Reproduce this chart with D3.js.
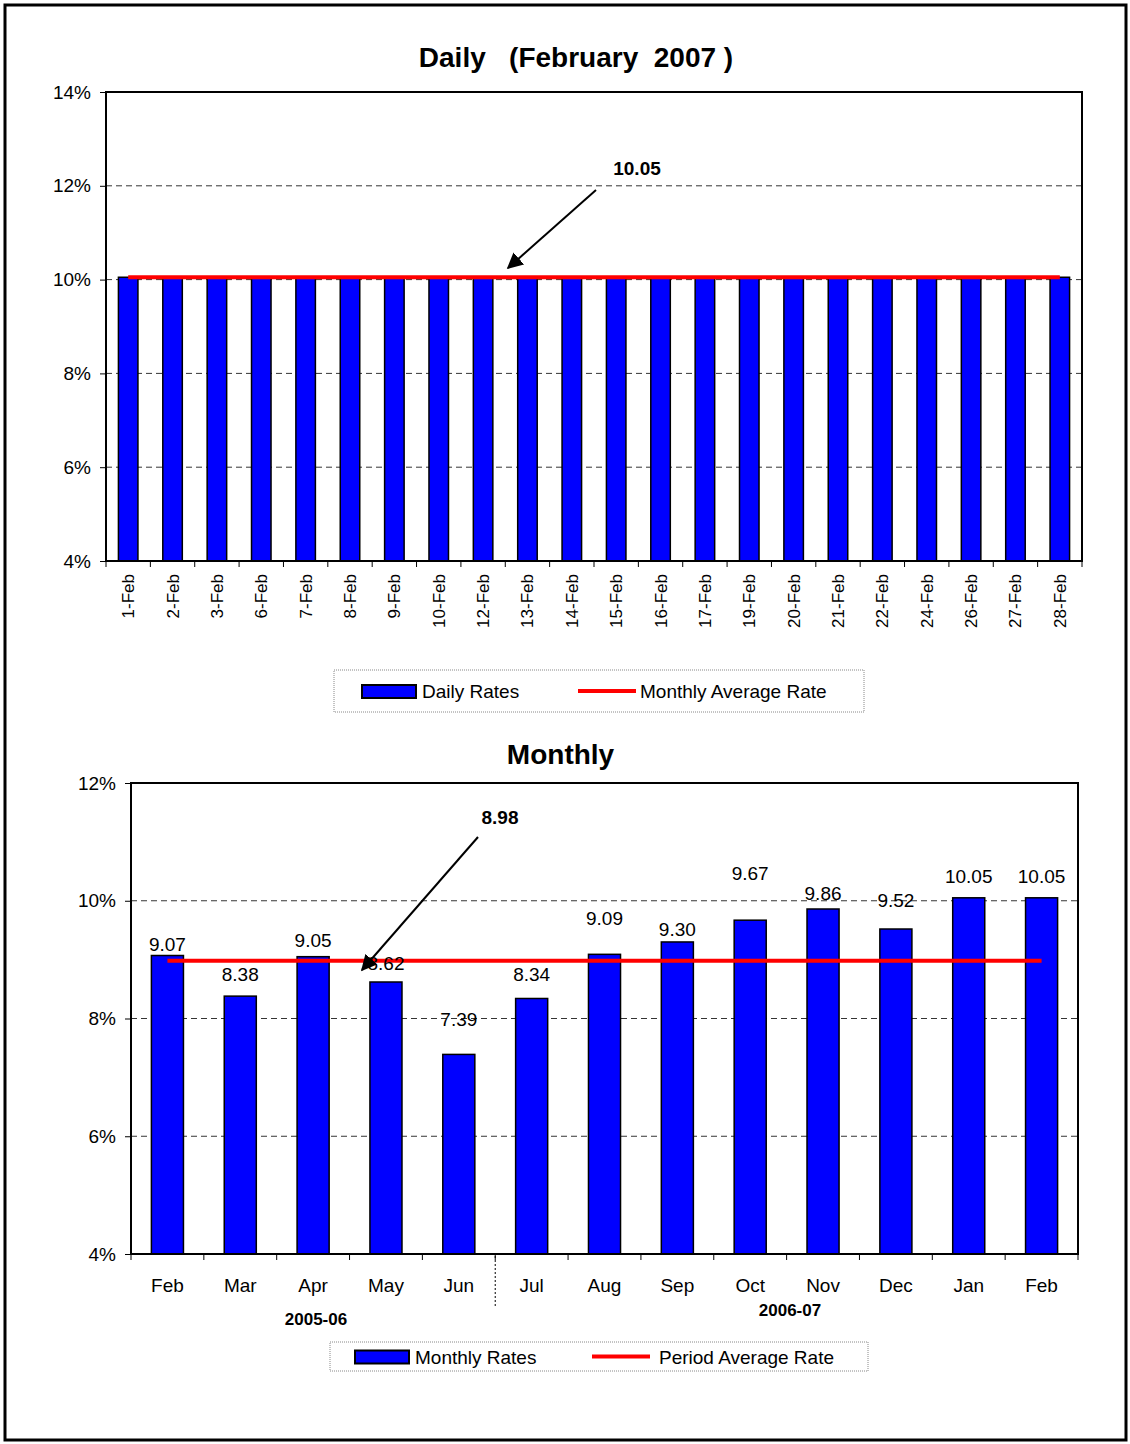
<!DOCTYPE html>
<html><head><meta charset="utf-8">
<script src="https://cdnjs.cloudflare.com/ajax/libs/d3/7.8.5/d3.min.js"></script>
<style>body{margin:0;background:#fff;font-family:Arial,"Liberation Sans",sans-serif}</style>
</head><body>
<svg id="c" width="1130" height="1444"></svg>
<script>
var dailyDays = ["1-Feb","2-Feb","3-Feb","6-Feb","7-Feb","8-Feb","9-Feb","10-Feb","12-Feb","13-Feb","14-Feb","15-Feb","16-Feb","17-Feb","19-Feb","20-Feb","21-Feb","22-Feb","24-Feb","26-Feb","27-Feb","28-Feb"];
var dailyRates = [10.05,10.05,10.05,10.05,10.05,10.05,10.05,10.05,10.05,10.05,10.05,10.05,10.05,10.05,10.05,10.05,10.05,10.05,10.05,10.05,10.05,10.05];
var dailyAvg = 10.05;
var months = ["Feb","Mar","Apr","May","Jun","Jul","Aug","Sep","Oct","Nov","Dec","Jan","Feb"];
var monthlyRates = [9.07,8.38,9.05,8.62,7.39,8.34,9.09,9.30,9.67,9.86,9.52,10.05,10.05];
var periodAvg = 8.98;
var dailyTicks = [4,6,8,10,12,14];
var monthlyTicks = [4,6,8,10,12];
// how far each value label sits above its bar (px), as placed in the original
var labelLift = [2,12,7,9,25,14,26,3,37,6,19,12,12];

var svg = d3.select("#c");
svg.append("rect").attr("x",5).attr("y",5).attr("width",1121).attr("height",1435)
  .attr("fill","none").attr("stroke","#000").attr("stroke-width",3);

function chart(o){
  var g = svg.append("g");
  var x = d3.scaleBand().domain(d3.range(o.cats.length)).range([o.x0,o.x1]);
  var y = d3.scaleLinear().domain([o.ticks[0],o.ticks[o.ticks.length-1]]).range([o.y1,o.y0]);
  g.selectAll(".gr").data(o.ticks.slice(1,-1)).enter().append("line")
    .attr("x1",o.x0).attr("x2",o.x1).attr("y1",y).attr("y2",y)
    .attr("stroke","#000").attr("stroke-dasharray","6,4").attr("stroke-width",0.8);
  var bw = x.bandwidth()*o.bw;
  g.selectAll(".b").data(o.vals).enter().append("rect")
    .attr("x",function(d,i){return x(i)+(x.bandwidth()-bw)/2;})
    .attr("y",function(d){return y(d);})
    .attr("width",bw).attr("height",function(d){return o.y1-y(d);})
    .attr("fill","#0000ff").attr("stroke","#000").attr("stroke-width",1.5);
  g.append("line").attr("x1",x(0)+x.bandwidth()/2).attr("x2",x(o.cats.length-1)+x.bandwidth()/2)
    .attr("y1",y(o.avg)).attr("y2",y(o.avg)).attr("stroke","#ff0000").attr("stroke-width",4);
  g.append("rect").attr("x",o.x0).attr("y",o.y0).attr("width",o.x1-o.x0).attr("height",o.y1-o.y0)
    .attr("fill","none").attr("stroke","#000").attr("stroke-width",2);
  var ya = g.append("g").attr("transform","translate("+o.x0+",0)")
    .call(d3.axisLeft(y).tickValues(o.ticks).tickFormat(function(d){return d+"%";}).tickSize(6));
  ya.select(".domain").remove();
  ya.selectAll("text").attr("font-size",19).attr("font-family","Arial,'Liberation Sans',sans-serif").attr("fill","#000").attr("dx",-6);
  var xa = g.append("g").attr("transform","translate(0,"+o.y1+")");
  xa.selectAll("line").data(d3.range(o.cats.length+1)).enter().append("line")
    .attr("x1",function(i){return o.x0+i*x.step();}).attr("x2",function(i){return o.x0+i*x.step();})
    .attr("y1",0).attr("y2",6).attr("stroke","#000");
  g.append("text").attr("x",(o.x0+o.x1)/2+o.tdx).attr("y",o.ty).attr("text-anchor","middle")
    .attr("font-size",28).attr("font-weight","bold").attr("xml:space","preserve").text(o.title);
  return {x:x,y:y,g:g};
}

var dTop = chart({cats:dailyDays,vals:dailyRates,avg:dailyAvg,ticks:dailyTicks,x0:106,x1:1082,y0:92,y1:561,bw:0.44,title:"Daily   (February  2007 )",ty:67,tdx:-18});
dTop.g.selectAll(".xl").data(dailyDays).enter().append("text")
  .attr("transform",function(d,i){return "translate("+(dTop.x(i)+dTop.x.bandwidth()/2+6)+",574) rotate(-90)";})
  .attr("text-anchor","end").attr("font-size",17).text(function(d){return d;});

var mBot = chart({cats:months,vals:monthlyRates,avg:periodAvg,ticks:monthlyTicks,x0:131,x1:1078,y0:783,y1:1254,bw:0.44,title:"Monthly",ty:764,tdx:-44});
mBot.g.selectAll(".xl").data(months).enter().append("text")
  .attr("x",function(d,i){return mBot.x(i)+mBot.x.bandwidth()/2;}).attr("y",1292)
  .attr("text-anchor","middle").attr("font-size",19).text(function(d){return d;});
mBot.g.selectAll(".vl").data(monthlyRates).enter().append("text")
  .attr("x",function(d,i){return mBot.x(i)+mBot.x.bandwidth()/2;}).attr("y",function(d,i){return mBot.y(d)-3-labelLift[i];})
  .attr("text-anchor","middle").attr("font-size",19).text(function(d){return d.toFixed(2);});
svg.append("line").attr("x1",mBot.x(5)).attr("x2",mBot.x(5)).attr("y1",1256).attr("y2",1308)
  .attr("stroke","#000").attr("stroke-dasharray","2,2");
svg.append("text").attr("x",316).attr("y",1325).attr("text-anchor","middle").attr("font-size",17).attr("font-weight","bold").text("2005-06");
svg.append("text").attr("x",790).attr("y",1316).attr("text-anchor","middle").attr("font-size",17).attr("font-weight","bold").text("2006-07");

svg.append("defs").append("marker").attr("id","ah").attr("viewBox","0 0 10 10").attr("refX",9).attr("refY",5)
  .attr("markerWidth",8).attr("markerHeight",8).attr("orient","auto")
  .append("path").attr("d","M0,0L10,5L0,10z").attr("fill","#000");
function annot(label,lx,ly,x1,y1,x2,y2){
  svg.append("text").attr("x",lx).attr("y",ly).attr("text-anchor","middle").attr("font-size",19).attr("font-weight","bold").text(label);
  svg.append("line").attr("x1",x1).attr("y1",y1).attr("x2",x2).attr("y2",y2).attr("stroke","#000").attr("stroke-width",2).attr("marker-end","url(#ah)");
}
annot(dailyAvg.toFixed(2),637,175,596,190,508,268);
annot(periodAvg.toFixed(2),500,824,478,837,362,970);

function legend(x,y,w,h,b,bx,l,lx1,lx2,lt){
  svg.append("rect").attr("x",x).attr("y",y).attr("width",w).attr("height",h).attr("fill","none").attr("stroke","#888").attr("stroke-dasharray","1,1");
  svg.append("rect").attr("x",bx).attr("y",y+h/2-6).attr("width",54).attr("height",13).attr("fill","#0000ff").attr("stroke","#000").attr("stroke-width",2);
  svg.append("text").attr("x",bx+60).attr("y",y+h/2+7).attr("font-size",19).text(b);
  svg.append("line").attr("x1",lx1).attr("x2",lx2).attr("y1",y+h/2).attr("y2",y+h/2).attr("stroke","#ff0000").attr("stroke-width",4);
  svg.append("text").attr("x",lt).attr("y",y+h/2+7).attr("font-size",19).text(l);
}
legend(334,670,530,42,"Daily Rates",362,"Monthly Average Rate",578,636,640);
legend(330,1342,538,29,"Monthly Rates",355,"Period Average Rate",592,650,659);
</script>
</body></html>
